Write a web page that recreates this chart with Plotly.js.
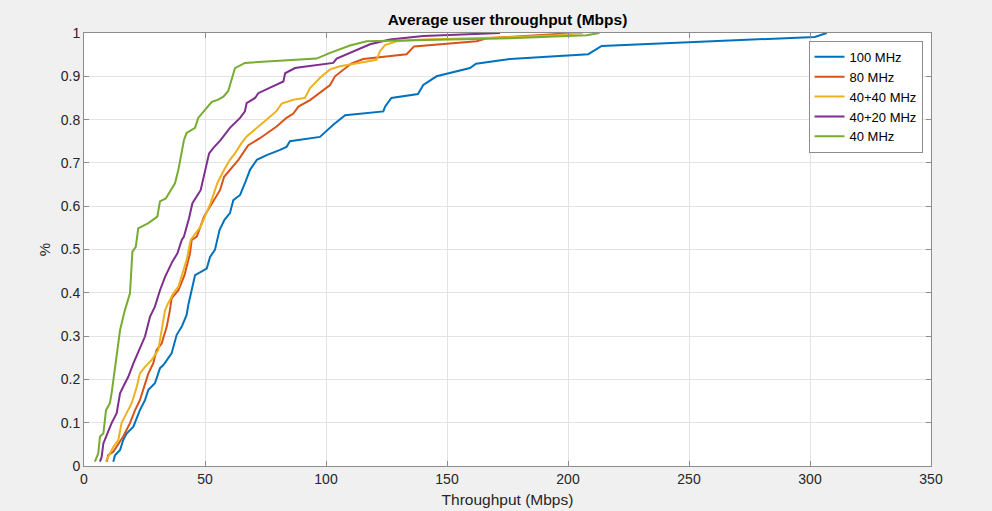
<!DOCTYPE html>
<html>
<head>
<meta charset="utf-8">
<script src="https://cdn.plot.ly/plotly-3.0.1.min.js"></script>
<style>
  html, body { margin: 0; padding: 0; background: #f0f0f0; }
  #chart { width: 992px; height: 511px; }
</style>
</head>
<body>
<div id="chart"></div>
<script>
// Empirical CDFs of average user throughput per bandwidth configuration
const seriesNames = ['100 MHz', '80 MHz', '40+40 MHz', '40+20 MHz', '40 MHz'];
const seriesColors = ['#0072BD', '#D95319', '#EDB120', '#7E2F8E', '#77AC30'];

const mhz100X = [12.1, 12.8, 14.9, 16.2, 17.6, 20.4, 23.1, 25.2, 26.6, 29.3, 31.4, 32.8, 36.2, 38.3, 40.4, 42.4, 43.1, 45.2, 45.9, 50.7, 52.1, 54.1, 55.2, 56.0, 58.0, 60.3, 61.7, 64.5, 66.5, 68.6, 71.4, 75.5, 81.0, 83.7, 85.1, 97.5, 103.0, 107.9, 123.7, 124.4, 127.0, 138.0, 140.2, 145.7, 159.5, 162.0, 176.0, 208.4, 213.9, 302.0, 306.9];
const mhz100Y = [0.01, 0.025, 0.037, 0.06, 0.075, 0.091, 0.129, 0.152, 0.176, 0.191, 0.226, 0.233, 0.26, 0.303, 0.322, 0.349, 0.372, 0.422, 0.441, 0.456, 0.483, 0.499, 0.522, 0.545, 0.568, 0.584, 0.614, 0.626, 0.653, 0.684, 0.707, 0.718, 0.73, 0.737, 0.75, 0.76, 0.788, 0.81, 0.819, 0.83, 0.85, 0.859, 0.88, 0.9, 0.919, 0.929, 0.94, 0.951, 0.97, 0.991, 1.0];

const mhz80X = [9.4, 10.0, 12.1, 14.2, 16.2, 19.0, 21.1, 23.1, 25.2, 26.6, 28.6, 30.0, 32.1, 34.2, 35.5, 36.2, 39.0, 41.5, 42.4, 43.8, 44.5, 46.6, 49.6, 52.1, 53.7, 56.2, 57.9, 59.6, 63.8, 67.9, 72.7, 79.6, 83.7, 86.5, 88.6, 93.4, 98.9, 101.7, 103.7, 107.2, 110.6, 115.4, 133.3, 136.4, 162.2, 166.4, 172.0, 190.0, 203.0];
const mhz80Y = [0.01, 0.025, 0.033, 0.052, 0.068, 0.099, 0.129, 0.152, 0.191, 0.214, 0.237, 0.268, 0.283, 0.322, 0.36, 0.387, 0.406, 0.44, 0.46, 0.491, 0.522, 0.53, 0.576, 0.599, 0.614, 0.637, 0.668, 0.68, 0.707, 0.741, 0.757, 0.784, 0.804, 0.814, 0.83, 0.845, 0.869, 0.88, 0.9, 0.915, 0.93, 0.94, 0.951, 0.969, 0.981, 0.988, 0.99, 0.995, 1.0];

const mhz40p40X = [9.0, 10.7, 12.1, 14.2, 15.5, 17.6, 19.7, 21.8, 23.1, 25.2, 28.0, 30.7, 32.1, 33.5, 34.8, 36.9, 39.0, 41.3, 42.4, 44.1, 48.2, 52.3, 55.1, 57.9, 60.3, 62.4, 65.0, 67.2, 71.4, 75.5, 79.6, 81.7, 86.5, 91.3, 93.4, 98.2, 101.7, 105.8, 120.9, 122.3, 124.4, 129.2, 140.0, 175.0, 195.0, 206.0];
const mhz40p40Y = [0.01, 0.029, 0.044, 0.06, 0.099, 0.122, 0.145, 0.183, 0.214, 0.229, 0.245, 0.268, 0.314, 0.36, 0.376, 0.399, 0.414, 0.46, 0.476, 0.522, 0.553, 0.607, 0.653, 0.684, 0.707, 0.722, 0.745, 0.761, 0.78, 0.8, 0.82, 0.837, 0.846, 0.85, 0.873, 0.9, 0.916, 0.923, 0.938, 0.958, 0.972, 0.981, 0.985, 0.99, 0.995, 1.0];

const mhz40p20X = [6.6, 7.3, 8.0, 9.4, 11.4, 13.5, 14.9, 16.2, 18.3, 20.4, 22.4, 25.2, 27.3, 29.3, 31.4, 33.5, 36.5, 38.6, 40.4, 41.3, 43.4, 44.8, 48.2, 50.3, 51.7, 53.4, 56.5, 60.3, 64.5, 66.5, 67.2, 70.7, 72.0, 76.9, 82.4, 83.1, 87.2, 89.3, 103.0, 104.4, 118.2, 126.4, 140.2, 171.9];
const mhz40p20Y = [0.01, 0.021, 0.052, 0.072, 0.099, 0.122, 0.168, 0.183, 0.206, 0.237, 0.264, 0.299, 0.345, 0.368, 0.406, 0.437, 0.472, 0.491, 0.522, 0.53, 0.572, 0.607, 0.637, 0.691, 0.722, 0.734, 0.753, 0.781, 0.804, 0.819, 0.838, 0.85, 0.861, 0.874, 0.888, 0.907, 0.919, 0.921, 0.931, 0.941, 0.974, 0.985, 0.993, 1.0];

const mhz40X = [4.5, 5.9, 6.6, 8.0, 9.1, 10.7, 11.4, 12.8, 14.9, 16.9, 19.0, 20.0, 21.4, 22.4, 26.6, 30.3, 31.4, 33.8, 35.5, 37.6, 39.0, 40.4, 41.3, 42.4, 45.9, 47.2, 50.7, 52.8, 55.5, 57.6, 59.6, 61.0, 62.4, 66.5, 87.9, 96.1, 101.7, 109.9, 116.8, 149.8, 176.0, 207.7, 213.0];
const mhz40Y = [0.01, 0.029, 0.068, 0.075, 0.129, 0.145, 0.168, 0.229, 0.314, 0.36, 0.399, 0.495, 0.506, 0.549, 0.561, 0.576, 0.611, 0.618, 0.634, 0.653, 0.684, 0.722, 0.753, 0.769, 0.781, 0.804, 0.826, 0.841, 0.846, 0.853, 0.866, 0.89, 0.919, 0.931, 0.937, 0.941, 0.954, 0.971, 0.981, 0.985, 0.988, 0.995, 1.0];

const xTickVals = [0, 50, 100, 150, 200, 250, 300, 350];
const yTickVals = [0, 0.1, 0.2, 0.3, 0.4, 0.5, 0.6, 0.7, 0.8, 0.9, 1];
const yTickText = ['0', '0.1', '0.2', '0.3', '0.4', '0.5', '0.6', '0.7', '0.8', '0.9', '1'];

const seriesX = [mhz100X, mhz80X, mhz40p40X, mhz40p20X, mhz40X];
const seriesY = [mhz100Y, mhz80Y, mhz40p40Y, mhz40p20Y, mhz40Y];

const FONT = 'Liberation Sans, Arial, sans-serif';

const traces = seriesNames.map((name, i) => ({
  type: 'scatter',
  mode: 'lines',
  name: name,
  x: seriesX[i],
  y: seriesY[i],
  line: { color: seriesColors[i], width: 2 }
}));

const axisCommon = {
  showgrid: true,
  gridcolor: '#e3e3e3',
  gridwidth: 1,
  zeroline: false,
  showline: true,
  linecolor: '#8c8c8c',
  linewidth: 1,
  mirror: 'ticks',
  ticks: 'inside',
  ticklen: 5,
  tickcolor: '#8c8c8c',
  tickfont: { family: FONT, size: 14, color: '#262626' }
};

const layout = {
  width: 992,
  height: 511,
  paper_bgcolor: '#f0f0f0',
  plot_bgcolor: '#ffffff',
  margin: { l: 84, r: 61, t: 33, b: 45 },
  title: {
    text: '<b>Average user throughput (Mbps)</b>',
    font: { family: FONT, size: 15.5, color: '#000000' },
    x: 0.5 * (84 + 931) / 992,
    xanchor: 'center',
    y: 1 - 20 / 511,
    yanchor: 'middle'
  },
  xaxis: Object.assign({}, axisCommon, {
    range: [0, 350],
    tickvals: xTickVals,
    ticktext: xTickVals.map(String),
    title: { text: 'Throughput (Mbps)', font: { family: FONT, size: 15.5, color: '#262626' }, standoff: 8 }
  }),
  yaxis: Object.assign({}, axisCommon, {
    range: [0, 1],
    tickvals: yTickVals,
    ticktext: yTickText,
    title: { text: '%', font: { family: FONT, size: 15, color: '#262626' }, standoff: 6 }
  }),
  showlegend: true,
  legend: {
    x: 0.99,
    xanchor: 'right',
    y: 0.982,
    yanchor: 'top',
    bgcolor: '#ffffff',
    bordercolor: '#8c8c8c',
    borderwidth: 1,
    font: { family: FONT, size: 13, color: '#000000' },
    tracegroupgap: 0,
    itemwidth: 30
  }
};

Plotly.newPlot('chart', traces, layout, { displayModeBar: false, staticPlot: true });
</script>
</body>
</html>
